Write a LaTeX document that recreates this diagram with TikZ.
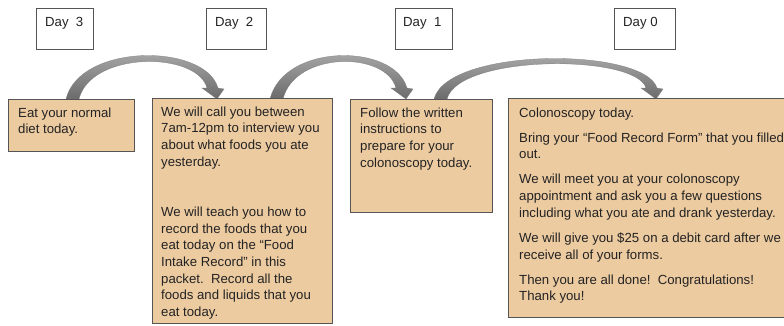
\documentclass[tikz,border=0pt]{standalone}
\usepackage{fontspec}
\setmainfont{Liberation Sans}
\definecolor{tan}{RGB}{237,203,161}
\definecolor{edge}{RGB}{85,85,85}
\definecolor{ink}{RGB}{35,35,35}
\newcommand\carrow[4]{%
  \path[arrowbody] (#1,99) .. controls ({#1+14},#3) and ({#2-12},#3) .. ({#2+1},88)
    -- ({#2+7},89) -- (#2,99) -- ({#2-15},88) -- ({#2-10},88)
    .. controls ({#2-20},#4) and ({#1+25},#4) .. ({#1+13},99) -- cycle;}
\begin{document}
\begin{tikzpicture}[x=1pt,y=-1pt,
  daybox/.style={draw=edge, line width=0.9pt, fill=white, inner sep=0, anchor=north west, minimum height=41pt},
  tanbox/.style={draw=edge, line width=0.9pt, fill=tan, inner sep=0, anchor=north west},
  txt/.style={inner sep=0, anchor=north west, align=left, text=ink, font=\fontsize{13.2pt}{16.7pt}\selectfont},
  arrowbody/.style={draw=black!50, line width=0.3pt, top color=black!30, bottom color=black!58},
]
\useasboundingbox (0,0) rectangle (784,325);
\begin{scope}
\clip (0,0) rectangle (784,325);
% day boxes
\node[daybox, minimum width=57pt] (d3) at (36,8) {};
\node[daybox, minimum width=60pt] (d2) at (206,8) {};
\node[daybox, minimum width=57pt] (d1) at (395,8) {};
\node[daybox, minimum width=61pt] (d0) at (614,8) {};
\node[txt] (t3) at (45,16.5) {\rule{0pt}{10pt}Day~~3};
\node[txt] (t2) at (215,16.5) {\rule{0pt}{10pt}Day~~2};
\node[txt] (t1) at (403,16.5) {\rule{0pt}{10pt}Day~~1};
\node[txt] (t0) at (623,16.5) {\rule{0pt}{10pt}Day 0};
% arrows
\carrow{66}{217}{43}{51}
\carrow{270}{406}{43}{51}
\carrow{434}{656}{47}{54}
% tan boxes
\node[tanbox, minimum width=126pt, minimum height=52pt] (b1) at (8,99) {};
\node[tanbox, minimum width=180pt, minimum height=225pt] (b2) at (152,98) {};
\node[tanbox, minimum width=142pt, minimum height=113pt] (b3) at (350,99) {};
\node[tanbox, minimum width=290pt, minimum height=219pt] (b4) at (508,98) {};
% texts
\node[txt] (x1) at (18,107) {\rule{0pt}{10pt}Eat your normal\\diet today.};
\node[txt] (x2) at (161,106) {\rule{0pt}{10pt}We will call you between\\7am-12pm to interview you\\about what foods you ate\\yesterday.\\[33.4pt]We will teach you how to\\record the foods that you\\eat today on the “Food\\Intake Record” in this\\packet.\ \ Record all the\\foods and liquids that you\\eat today.};
\node[txt] (x3) at (360,107) {\rule{0pt}{10pt}Follow the written\\instructions to\\prepare for your\\colonoscopy today.};
\node[txt] (x4) at (519,107) {\rule{0pt}{10pt}Colonoscopy today.\\[8.3pt]Bring your “Food Record Form” that you filled\\out.\\[8.3pt]We will meet you at your colonoscopy\\appointment and ask you a few questions\\including what you ate and drank yesterday.\\[8.3pt]We will give you \$25 on a debit card after we\\receive all of your forms.\\[8.3pt]Then you are all done!\ \ Congratulations!\\Thank you!};
\end{scope}
\end{tikzpicture}
\end{document}
